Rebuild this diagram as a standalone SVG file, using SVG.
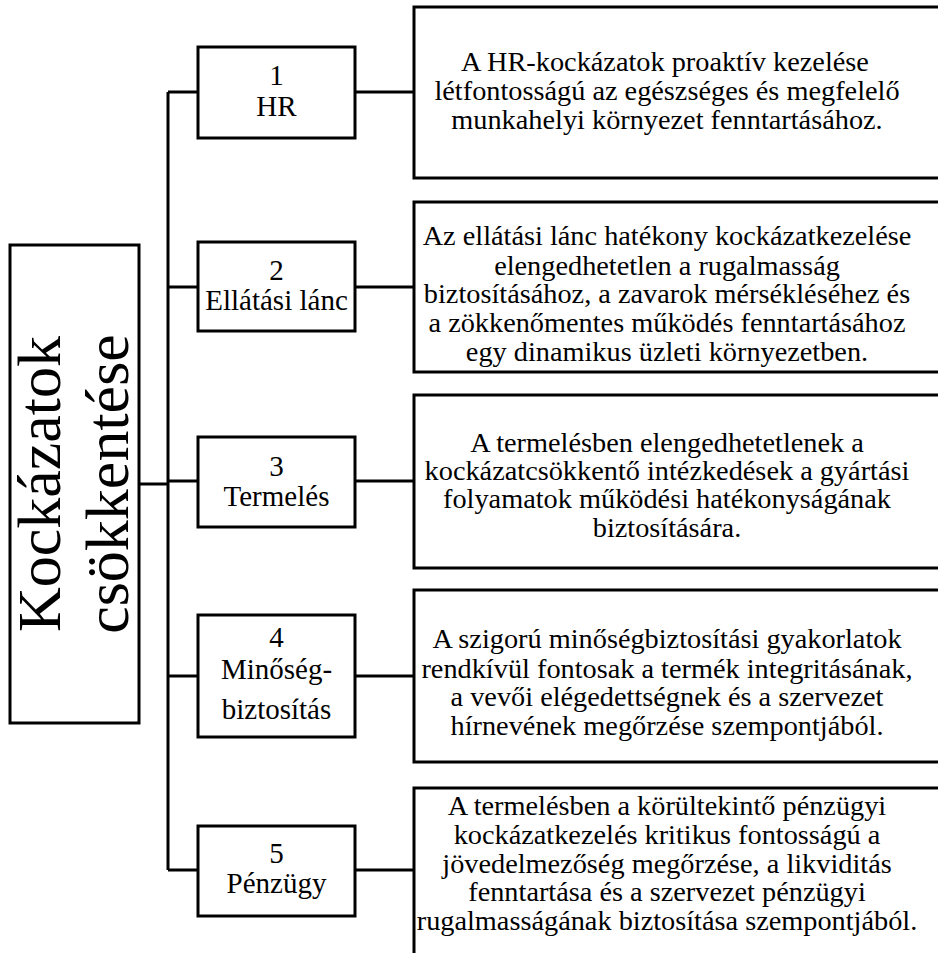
<svg xmlns="http://www.w3.org/2000/svg" width="938" height="953" viewBox="0 0 938 953">
<style>
.box{fill:#fff;stroke:#000;stroke-width:3}
.ln{fill:none;stroke:#000;stroke-width:3}
text{font-family:"Liberation Serif","Times New Roman",serif;fill:#000}
.t{font-size:62px}
.n{font-size:29px;text-anchor:middle}
.d{font-size:28.3px;text-anchor:middle}
</style>
<rect x="0" y="0" width="938" height="953" fill="#fff"/>
<g id="connectors">
<path class="ln" d="M139,484 H168 M168,92 V870 M168,92 H198 M168,287 H198 M168,481 H198 M168,676 H198 M168,870 H198 M355,92 H414 M355,287 H414 M355,481 H414 M355,676 H414 M355,870 H414"/>
</g>
<g id="root">
<rect class="box" x="10" y="245" width="129" height="478"/>
<text class="t" text-anchor="middle" transform="translate(60,484) rotate(-90)">Kockázatok</text>
<text class="t" text-anchor="middle" transform="translate(128,484) rotate(-90)">csökkentése</text>
</g>
<g id="n1">
<rect class="box" x="198" y="47" width="157" height="91"/>
<text class="n" x="276.5" y="85">1</text>
<text class="n" x="276.5" y="116">HR</text>
</g>
<g id="n2">
<rect class="box" x="198" y="242" width="157" height="89"/>
<text class="n" x="276.5" y="280">2</text>
<text class="n" x="276.5" y="310">Ellátási lánc</text>
</g>
<g id="n3">
<rect class="box" x="198" y="437" width="157" height="90"/>
<text class="n" x="276.5" y="476">3</text>
<text class="n" x="276.5" y="506">Termelés</text>
</g>
<g id="n4">
<rect class="box" x="198" y="615" width="157" height="122"/>
<text class="n" x="276.5" y="647">4</text>
<text class="n" x="276.5" y="679">Minőség-</text>
<text class="n" x="276.5" y="719">biztosítás</text>
</g>
<g id="n5">
<rect class="box" x="198" y="826" width="157" height="90"/>
<text class="n" x="276.5" y="863">5</text>
<text class="n" x="276.5" y="893">Pénzügy</text>
</g>
<g id="d1">
<rect class="box" x="414" y="7" width="560" height="171"/>
<text class="d" x="665" y="71">A HR-kockázatok proaktív kezelése</text>
<text class="d" x="667" y="100">létfontosságú az egészséges és megfelelő</text>
<text class="d" x="667" y="129">munkahelyi környezet fenntartásához.</text>
</g>
<g id="d2">
<rect class="box" x="414" y="202" width="560" height="170"/>
<text class="d" x="667" y="245">Az ellátási lánc hatékony kockázatkezelése</text>
<text class="d" x="667" y="275">elengedhetetlen a rugalmasság</text>
<text class="d" x="667" y="303">biztosításához, a zavarok mérsékléséhez és</text>
<text class="d" x="667" y="332">a zökkenőmentes működés fenntartásához</text>
<text class="d" x="667" y="361">egy dinamikus üzleti környezetben.</text>
</g>
<g id="d3">
<rect class="box" x="414" y="395" width="560" height="173"/>
<text class="d" x="667" y="452">A termelésben elengedhetetlenek a</text>
<text class="d" x="667" y="480">kockázatcsökkentő intézkedések a gyártási</text>
<text class="d" x="667" y="508">folyamatok működési hatékonyságának</text>
<text class="d" x="667" y="537">biztosítására.</text>
</g>
<g id="d4">
<rect class="box" x="414" y="590" width="560" height="172"/>
<text class="d" x="667" y="648">A szigorú minőségbiztosítási gyakorlatok</text>
<text class="d" x="667" y="678">rendkívül fontosak a termék integritásának,</text>
<text class="d" x="667" y="706">a vevői elégedettségnek és a szervezet</text>
<text class="d" x="667" y="735">hírnevének megőrzése szempontjából.</text>
</g>
<g id="d5">
<rect class="box" x="414" y="788" width="560" height="200"/>
<text class="d" x="667" y="815">A termelésben a körültekintő pénzügyi</text>
<text class="d" x="667" y="844">kockázatkezelés kritikus fontosságú a</text>
<text class="d" x="667" y="873">jövedelmezőség megőrzése, a likviditás</text>
<text class="d" x="667" y="901">fenntartása és a szervezet pénzügyi</text>
<text class="d" x="667" y="930">rugalmasságának biztosítása szempontjából.</text>
</g>
</svg>
